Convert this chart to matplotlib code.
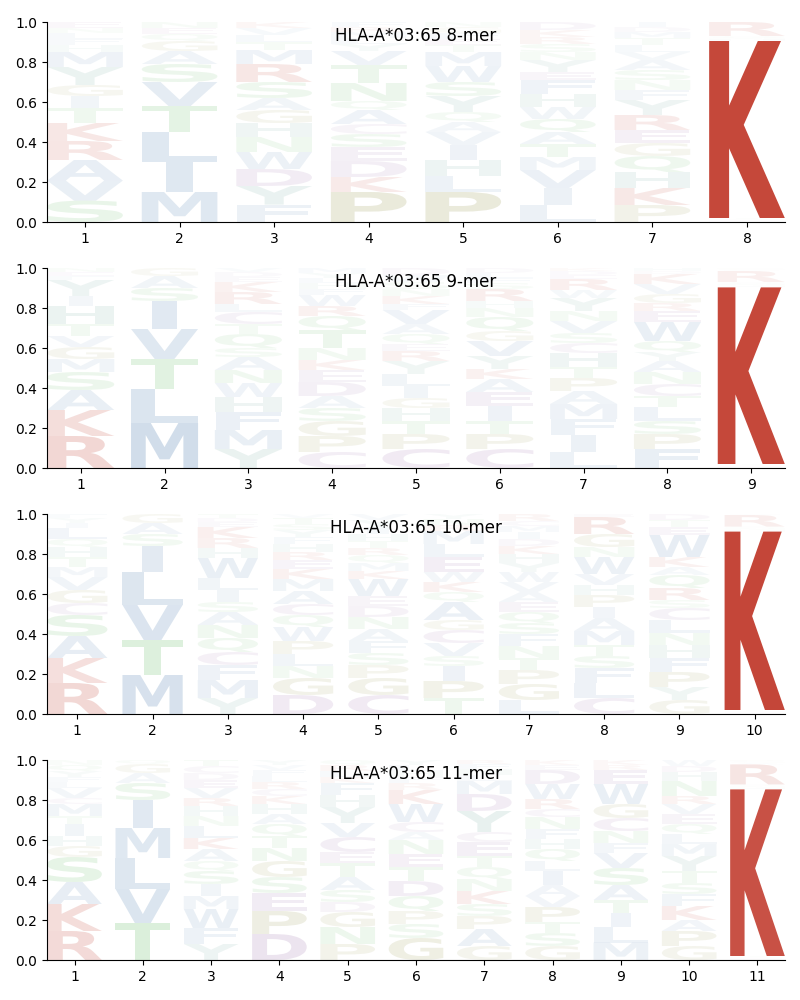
import matplotlib
matplotlib.use("Agg")
import matplotlib.pyplot as plt
from matplotlib.textpath import TextPath
from matplotlib.patches import PathPatch
from matplotlib.font_manager import FontProperties
from matplotlib.transforms import Affine2D

ALLELE = "HLA-A*03:65"

# letters of each column, bottom -> top, and their heights (probabilities)
MER8_LETTERS = ["SVARKTIGYMHFLNE", "MILTVSAGQEN", "FYDWNHGASRMTLVK", "PKDESCAQNTVYLMRF",
                "PLHIVAQYSWMTEFGN", "LIVMTAQWHFEYNSRKD", "PKHQGERYFNSAVLTMDI", "DESTKHNQR"]
MER8_HEIGHTS = [
    [.107, .10, .103, .095, .09, .075, .06, .055, .09, .075, .035, .03, .03, .025, .03],
    [.15, .15, .15, .13, .12, .09, .065, .05, .035, .03, .03],
    [.087, .093, .085, .085, .075, .07, .065, .06, .08, .09, .07, .04, .035, .035, .03],
    [.15, .075, .08, .07, .065, .05, .07, .045, .09, .09, .07, .035, .03, .03, .025, .025],
    [.15, .08, .08, .075, .065, .05, .05, .08, .07, .08, .07, .035, .03, .03, .03, .025],
    [.085, .085, .09, .065, .065, .06, .065, .06, .065, .07, .04, .06, .04, .04, .035, .035, .04],
    [.085, .085, .08, .08, .065, .065, .075, .075, .05, .05, .05, .05, .04, .035, .035, .03, .025, .025],
    [.005, .005, .005, .005, .885, .008, .008, .009, .07],
]

MER9_LETTERS = ["RKASMGVTHIYFEN", "MLTVISAG", "YMFHWNASQTCLRKEDV", "CPGSADEKNTQRWFHLYM",
                "CPTHGILYREQAVFKNSWD", "CPTIEAKYVGQNHRSFLD", "LIFMAPTHCSVNYWREDK",
                "FPSLTCNAYQWERGVKDH", "DESTKHNQRAGP"]
MER9_HEIGHTS = [
    [.16, .13, .10, .09, .065, .06, .055, .06, .09, .05, .08, .02, .02, .02],
    [.225, .17, .15, .15, .14, .065, .06, .04],
    [.095, .095, .09, .075, .07, .065, .065, .045, .07, .05, .06, .04, .06, .05, .025, .025, .02],
    [.08, .08, .075, .065, .06, .07, .06, .05, .06, .09, .07, .05, .055, .03, .03, .025, .025, .025],
    [.095, .075, .065, .065, .05, .06, .06, .065, .05, .035, .05, .05, .07, .03, .04, .035, .035, .035, .035],
    [.095, .075, .065, .075, .07, .065, .05, .065, .075, .05, .07, .045, .035, .06, .03, .025, .025, .025],
    [.08, .085, .08, .075, .065, .065, .055, .07, .05, .05, .06, .05, .065, .04, .055, .02, .02, .015],
    [.095, .075, .065, .07, .055, .06, .06, .055, .045, .055, .095, .055, .04, .045, .05, .05, .015, .015],
    [.005, .005, .005, .005, .883, .009, .009, .009, .055, .005, .005, .005],
]

MER10_LETTERS = ["RKASCGVMTHQLIYF", "MTVLISAG", "YMFCQNASILWHRKEDT", "DGNLPWQCAMKERHFYSTV",
                 "CGPSFANDEWKMQRTHIYV", "TPISVCGAQKWELMRNY", "LGPTNFSQEAVWYHKDIMCR",
                 "CLFSTMAIPHVWNGRE", "GYPFHNLCSRQAKWETD", "DESTKHNQRA"]
MER10_HEIGHTS = [
    [.155, .125, .11, .105, .06, .065, .065, .05, .05, .05, .04, .055, .025, .025, .02],
    [.195, .175, .175, .165, .13, .06, .055, .045],
    [.08, .09, .075, .065, .07, .065, .065, .05, .06, .06, .10, .05, .05, .055, .025, .02, .02],
    [.095, .085, .06, .06, .065, .07, .06, .055, .065, .06, .05, .045, .04, .04, .035, .035, .03, .03, .02],
    [.095, .085, .065, .06, .06, .06, .06, .055, .05, .085, .04, .04, .04, .035, .035, .035, .035, .035, .03],
    [.08, .085, .075, .05, .065, .065, .05, .09, .05, .05, .05, .075, .065, .065, .03, .03, .025],
    [.07, .08, .07, .06, .06, .06, .055, .055, .05, .05, .05, .05, .045, .045, .04, .035, .035, .03, .025, .035],
    [.08, .075, .075, .06, .055, .07, .065, .055, .06, .05, .055, .085, .05, .065, .085, .015],
    [.07, .065, .075, .07, .065, .06, .065, .06, .04, .06, .065, .04, .05, .11, .04, .035, .03],
    [.005, .005, .005, .005, .892, .0083, .0083, .0084, .058, .005],
]

MER11_LETTERS = ["RKASGHITMCVLFYQN", "TVLMISAGQ", "YFWMISQAKLNHRVEDCT", "DPESGNTQAHKCRLFVY",
                 "PNGDSATECVYHFKLRQ", "GSPQDTENACWKRFHLY", "GAPSKNQTECYDMLHFR",
                 "GSTPVAILQHFNCRWDEK", "MLITASVFNCGWERK", "GPAKFSTYMLQEVRNHDW",
                 "DESTKHNQRAGP"]
MER11_HEIGHTS = [
    [.145, .135, .11, .125, .055, .05, .06, .04, .06, .03, .05, .03, .025, .03, .03, .025],
    [.185, .17, .155, .15, .14, .085, .05, .045, .02],
    [.08, .08, .095, .065, .06, .065, .05, .06, .055, .06, .05, .05, .04, .05, .04, .035, .035, .03],
    [.13, .115, .09, .08, .08, .065, .06, .06, .05, .05, .04, .035, .035, .03, .03, .025, .025],
    [.08, .085, .075, .05, .06, .065, .07, .055, .075, .07, .08, .06, .06, .03, .03, .03, .025],
    [.11, .07, .065, .075, .075, .07, .065, .07, .04, .05, .09, .07, .035, .03, .03, .03, .025],
    [.07, .085, .065, .06, .065, .06, .06, .055, .07, .05, .105, .085, .065, .03, .03, .025, .02],
    [.07, .065, .055, .075, .055, .055, .07, .05, .06, .05, .05, .06, .04, .05, .075, .07, .025, .025],
    [.087, .078, .07, .065, .075, .085, .075, .05, .06, .065, .07, .10, .07, .025, .025],
    [.07, .075, .055, .07, .06, .055, .06, .075, .06, .05, .05, .05, .05, .04, .075, .045, .03, .03],
    [.005, .005, .005, .005, .833, .0083, .0083, .0084, .10, .0073, .0073, .0074],
]

PANELS = [(8, MER8_LETTERS, MER8_HEIGHTS), (9, MER9_LETTERS, MER9_HEIGHTS),
          (10, MER10_LETTERS, MER10_HEIGHTS), (11, MER11_LETTERS, MER11_HEIGHTS)]

RED = "#be3223"
BLUE = "#5280b2"
GREEN = "#5cb85c"
OLIVE = "#8c8c3a"
PURPLE = "#8c5aa0"
TEAL = "#53988a"
COLORS = {}
for c in "KR":
    COLORS[c] = RED
for c in "AVLIMFW":
    COLORS[c] = BLUE
for c in "STNQ":
    COLORS[c] = GREEN
for c in "PG":
    COLORS[c] = OLIVE
for c in "DEC":
    COLORS[c] = PURPLE
for c in "YH":
    COLORS[c] = TEAL

FP = FontProperties(family="DejaVu Sans", weight="bold")
REF_BB = TextPath((0, 0), "E", size=1, prop=FP).get_extents()
WIDTH = 0.8


def draw_glyph(ax, ch, x, y0, h):
    path = TextPath((0, 0), ch, size=1, prop=FP)
    bb = path.get_extents()
    sx = min(WIDTH / bb.width, WIDTH / REF_BB.width)
    cw = sx * bb.width
    sy = h / bb.height
    t = Affine2D().translate(-bb.x0, -bb.y0).scale(sx, sy).translate(x - cw / 2, y0)
    ax.add_patch(PathPatch(t.transform_path(path), facecolor=COLORS[ch],
                           edgecolor="none", alpha=min(1.0, h ** 0.9)))


fig, axes = plt.subplots(4, 1, figsize=(8, 10))
plt.subplots_adjust(left=0.059, right=0.981, top=0.978, bottom=0.04, hspace=0.23)

for ax, (n, letters, heights) in zip(axes, PANELS):
    for i in range(n):
        y = 0.0
        for ch, h in zip(letters[i], heights[i]):
            draw_glyph(ax, ch, i + 1, y, h)
            y += h
    ax.set_xlim(0.6, n + 0.4)
    ax.set_ylim(0, 1)
    ax.set_xticks(range(1, n + 1))
    ax.spines["top"].set_visible(False)
    ax.spines["right"].set_visible(False)
    ax.text(0.5, 0.93, f"{ALLELE} {n}-mer", transform=ax.transAxes,
            ha="center", va="center", fontsize=12)

plt.savefig("out.png", dpi=100, facecolor="white")
plt.close()
